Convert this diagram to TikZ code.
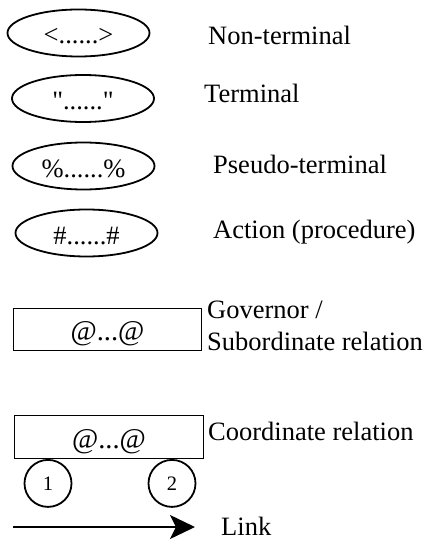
\documentclass[tikz,border=0pt]{standalone}
\usepackage{fontspec}
\setmainfont{Liberation Serif}
\newfontfamily\plainserif{Liberation Serif}[Ligatures=TeXOff]
\usetikzlibrary{shapes.geometric,arrows.meta}
\begin{document}
\begin{tikzpicture}[x=1pt,y=-1pt,
  oval/.style={ellipse,draw,line width=1.8pt,inner sep=0pt,
    minimum width=142pt,minimum height=47pt,
    font=\fontsize{26.5}{30}\selectfont,text height=22pt,text depth=0pt},
  relbox/.style={rectangle,draw,line width=1.8pt,inner sep=0pt,
    minimum width=188pt,minimum height=42pt,
    font=\fontsize{28.5}{32}\selectfont,text height=22pt,text depth=0pt},
  slot/.style={circle,draw,line width=1.8pt,inner sep=0pt,
    minimum size=47pt,font=\fontsize{20.5}{24}\selectfont},
  legend/.style={anchor=base west,inner sep=0pt,
    font=\fontsize{26.5}{32}\selectfont},
  link/.style={line width=1.8pt,-{Stealth[length=25pt,width=24pt,inset=6pt]}}]
\useasboundingbox (0,0) rectangle (431,540);

% symbol shapes
\node[oval] (nonterm) at (78.5,33) {<......>};
\node[oval] (term) at (83,98.5) {\plainserif"......"};
\node[oval] (pseudo) at (83.5,166) {\%......\%};
\node[oval] (action) at (86.5,233) {\#......\#};

\node[relbox] (govrel) at (107.5,329.5) {@...@};
\node[relbox,minimum width=189pt,minimum height=43pt] (coordrel) at (109,437) {@...@};
\node[slot,anchor=north] (first) at (48,459) {1};
\node[slot,anchor=north] (second) at (172,459) {2};

\coordinate (linkfrom) at (13,527);
\coordinate (linkto) at (195,527);
\draw[link] (linkfrom) -- (linkto);

% explanations
\node[legend] (lnonterm) at (208,45) {Non-terminal};
\node[legend] (lterm) at (204,103) {Terminal};
\node[legend] (lpseudo) at (213,173) {Pseudo-terminal};
\node[legend] (laction) at (213,238) {Action (procedure)};
\node[legend] (lgov) at (207,318) {Governor /};
\node[legend] (lsub) at (207,350) {Subordinate relation};
\node[legend] (lcoord) at (208,440) {Coordinate relation};
\node[legend] (llink) at (221,535) {Link};
\end{tikzpicture}
\end{document}
